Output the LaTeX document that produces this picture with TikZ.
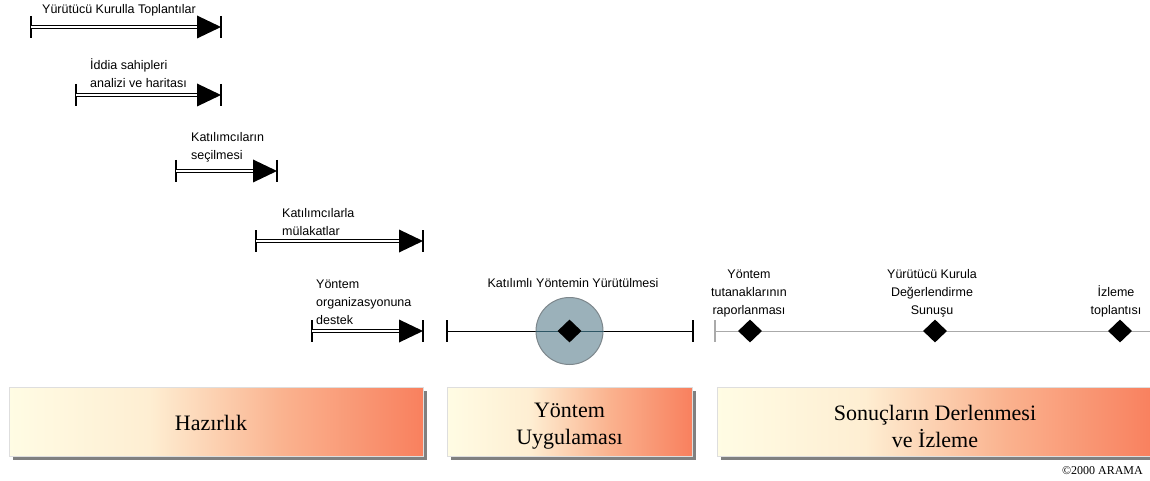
\documentclass[tikz,border=0pt]{standalone}
\usepackage{fontspec}
\setmainfont{Liberation Sans}
\newfontfamily\boxfont{Liberation Serif}
\usetikzlibrary{shapes.geometric,shadows}
\definecolor{circfill}{RGB}{155,177,186}
\definecolor{circdraw}{RGB}{125,135,140}
\definecolor{circline}{RGB}{45,85,100}
\definecolor{tlgray}{RGB}{170,170,170}
\definecolor{boxedge}{RGB}{222,222,222}
\definecolor{shadowgray}{RGB}{128,128,128}
\pgfdeclarehorizontalshading{phase}{100bp}{rgb(0bp)=(1,0.988,0.894);rgb(25bp)=(1,0.988,0.894);rgb(42bp)=(0.996,0.933,0.824);rgb(58bp)=(0.98,0.70,0.56);rgb(75bp)=(0.976,0.502,0.369);rgb(100bp)=(0.976,0.502,0.369)}
\begin{document}
\begin{tikzpicture}[x=1pt,y=-1pt,
  lbl/.style={font=\fontsize{12.5}{18}\selectfont, inner sep=0pt, align=left, anchor=base west},
  clbl/.style={font=\fontsize{12.5}{18}\selectfont, inner sep=0pt, align=center, anchor=base},
  tickline/.style={line width=1.4pt},
  dbl/.style={double, double distance=2.2pt, line width=0.8pt},
  phasebox/.style={shading=phase, draw=boxedge, line width=0.6pt, inner sep=0pt,
    minimum height=69pt,
    drop shadow={shadow xshift=4pt, shadow yshift=-4pt, fill=shadowgray, opacity=1}},
  phasetext/.style={font=\boxfont\fontsize{22}{27}\selectfont, align=center, inner sep=0pt},
  dmd/.style={diamond, fill=black, inner sep=0pt, minimum width=24pt, minimum height=23pt}]
\useasboundingbox (0,0) rectangle (1150,481);

\newcommand{\tlbar}[4]{%
  \coordinate (#1-s) at (#2,#4);
  \coordinate (#1-e) at (#3,#4);
  \draw[tickline] (#1-s) ++(0,-11) -- ++(0,22);
  \draw[dbl] (#1-s) -- ([xshift=-22pt]#1-e);
  \fill (#1-e) -- ++(-24,-11.5) -- ++(0,23) -- cycle;
  \draw[tickline] (#1-e) ++(0,-11) -- ++(0,22);
}

% preparation bars
\tlbar{b1}{31}{221}{27}
\node[lbl] (t1) at (42,14) {Yürütücü Kurulla Toplantılar};
\tlbar{b2}{76}{221}{95}
\node[lbl] (t2) at (90,88) {İddia sahipleri\\analizi ve haritası};
\tlbar{b3}{176}{277}{171}
\node[lbl] (t3) at (191,160) {Katılımcıların\\seçilmesi};
\tlbar{b4}{256}{423}{241}
\node[lbl] (t4) at (282,235) {Katılımcılarla\\mülakatlar};
\tlbar{b5}{312}{423}{331}
\node[lbl] (t5) at (316,324) {Yöntem\\organizasyonuna\\destek};

% method application
\coordinate (ms) at (447,331);
\coordinate (me) at (693,331);
\draw[line width=0.9pt] (ms) -- (me);
\draw[tickline] (ms) ++(0,-11) -- ++(0,22);
\draw[tickline] (me) ++(0,-11) -- ++(0,22);
\node[circle, minimum size=67pt, inner sep=0pt, fill=circfill, draw=circdraw, line width=1pt] (c) at (569.5,331) {};
\draw[circline, line width=0.9pt] (c.west) -- (c.east);
\node[dmd] (dm) at (c.center) {};
\node[clbl] (tm) at (573,287) {Katılımlı Yöntemin Yürütülmesi};

% results
\coordinate (rs) at (715,331);
\coordinate (re) at (1150,331);
\draw[tlgray, line width=1pt] (rs) -- (re);
\draw[tlgray, line width=1.2pt] (rs) ++(0,-11) -- ++(0,22);
\node[dmd] (d1) at (750,331) {};
\node[dmd] (d2) at (935,331) {};
\node[dmd] (d3) at (1120,331) {};
\node[clbl] (r1) at (749,314) {Yöntem\\tutanaklarının\\raporlanması};
\node[clbl] (r2) at (932,314) {Yürütücü Kurula\\Değerlendirme\\Sunuşu};
\node[clbl] (r3) at (1116,314) {İzleme\\toplantısı};

% phase boxes
\node[phasebox, minimum width=414pt] (p1) at (216,421.5) {};
\node[phasebox, minimum width=245pt] (p2) at (569.5,421.5) {};
\node[phasebox, minimum width=436pt] (p3) at (935,421.5) {};
\node[phasetext] (h1) at ([xshift=-5pt,yshift=-1pt]p1.center) {Hazırlık};
\node[phasetext] (h2) at ([yshift=-5pt]p2.center) {Yöntem\\Uygulaması};
\node[phasetext] (h3) at ([yshift=-5pt]p3.center) {Sonuçların Derlenmesi\\ve İzleme};

\node[font=\boxfont\fontsize{12}{14}\selectfont, inner sep=0pt, anchor=base east] (cp) at (1143,474) {©2000 ARAMA};
\end{tikzpicture}
\end{document}
